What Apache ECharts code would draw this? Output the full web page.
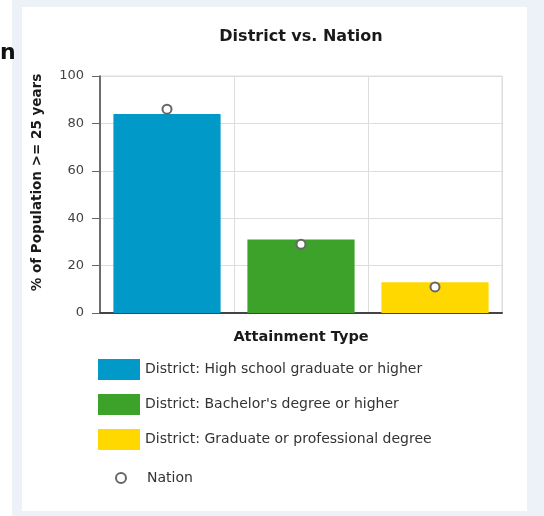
<!DOCTYPE html>
<html><head><meta charset="utf-8">
<script src="https://cdn.jsdelivr.net/npm/echarts@6/dist/echarts.min.js"></script>
<style>html,body{margin:0;padding:0;background:#fff}#c{width:544px;height:516px}</style>
</head><body><div id="c"></div>
<script>
var categories = ['High school graduate or higher', "Bachelor's degree or higher", 'Graduate or professional degree'];
var districtNames = ['District: High school graduate or higher', "District: Bachelor's degree or higher", 'District: Graduate or professional degree'];
var districtValues = [84, 31, 13];
var nationValues = [86, 29, 11];
var yTicks = [0, 20, 40, 60, 80, 100];
var barColors = ['#0099C8', '#3DA229', '#FFD800'];
var FONT = 'DejaVu Sans';

var chart = echarts.init(document.getElementById('c'), null, {renderer: 'canvas'});
var series = districtNames.map(function (n, i) {
  return {
    name: n, type: 'bar', stack: 'district', barWidth: '80%',
    itemStyle: {color: barColors[i]},
    data: categories.map(function (c, j) { return j === i ? districtValues[i] : '-'; }),
    z: 2
  };
});
series.push({
  name: 'Nation', type: 'scatter', symbol: 'circle', symbolSize: 9,
  itemStyle: {color: '#ffffff', borderColor: '#666666', borderWidth: 2, opacity: 1},
  data: nationValues, z: 5
});
chart.setOption({
  animation: false,
  backgroundColor: 'transparent',
  textStyle: {fontFamily: FONT},
  graphic: [
    {type: 'rect', z: -10, shape: {x: 12, y: 0, width: 532, height: 516}, style: {fill: '#EDF1F8'}},
    {type: 'rect', z: -9, shape: {x: 22, y: 7, width: 505, height: 504}, style: {fill: '#ffffff'}},
    {type: 'text', z: -8, left: 0, top: 42, style: {text: 'n', font: 'bold 22px ' + FONT, fill: '#111'}}
  ],
  title: {
    text: 'District vs. Nation', left: 296, top: 24, textAlign: 'center',
    textStyle: {fontSize: 16, fontWeight: 'bold', color: '#1a1a1a', fontFamily: FONT}
  },
  grid: {left: 100, right: 42, top: 76, bottom: 203, show: true, borderColor: '#dddddd', borderWidth: 1},
  legend: [{
    data: districtNames, orient: 'vertical', left: 98, top: 359, padding: 0,
    itemWidth: 42, itemHeight: 21, itemGap: 14, icon: 'rect',
    textStyle: {fontSize: 14, color: '#333', fontFamily: FONT}, selectedMode: false
  }, {
    data: ['Nation'], orient: 'vertical', left: 110, top: 466,
    itemWidth: 42, itemHeight: 10,
    textStyle: {fontSize: 14, color: '#333', fontFamily: FONT}, selectedMode: false
  }],
  xAxis: {
    type: 'category', data: categories,
    name: 'Attainment Type', nameLocation: 'middle', nameGap: 17,
    nameTextStyle: {fontSize: 14.5, fontWeight: 'bold', color: '#1a1a1a', fontFamily: FONT},
    axisLine: {lineStyle: {color: '#444', width: 2}},
    axisTick: {show: false}, axisLabel: {show: false, interval: 0},
    splitLine: {show: true, interval: 0, lineStyle: {color: '#dddddd'}}
  },
  yAxis: {
    type: 'value', min: yTicks[0], max: yTicks[yTicks.length - 1], interval: 20,
    name: '% of Population >= 25 years', nameLocation: 'middle', nameGap: 56, nameRotate: 90,
    nameTextStyle: {fontSize: 13.5, fontWeight: 'bold', color: '#1a1a1a', fontFamily: FONT, padding: [0, 0, 0, 24]},
    axisLine: {show: true, lineStyle: {color: '#444', width: 1.5}},
    axisTick: {show: true, length: 8, lineStyle: {color: '#666'}},
    axisLabel: {fontSize: 13, color: '#444', margin: 16, fontFamily: FONT},
    splitLine: {lineStyle: {color: '#dddddd'}}
  },
  series: series
});
</script></body></html>
